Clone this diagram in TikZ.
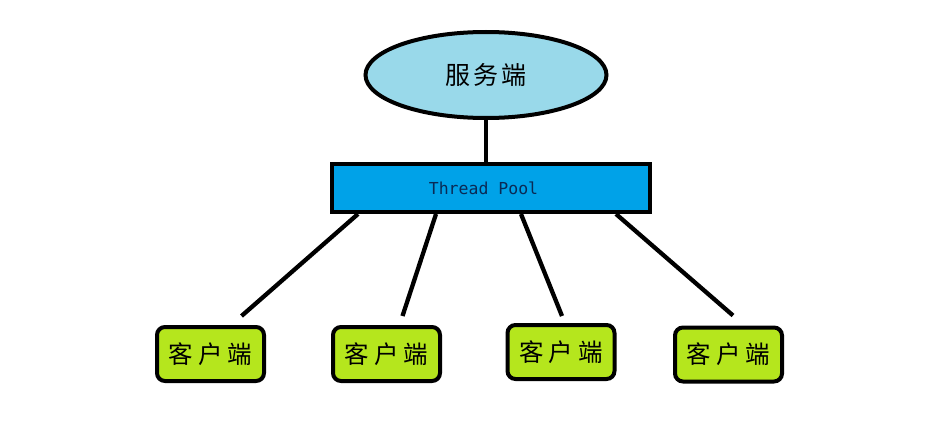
\documentclass[tikz,border=0pt]{standalone}
\usepackage{fontspec}
\newfontfamily\cjk{Noto Sans CJK SC}
\newfontfamily\monof{DejaVu Sans Mono}
\usetikzlibrary{shapes.geometric,calc}
\definecolor{srvblue}{HTML}{99D9EA}
\definecolor{poolblue}{HTML}{00A2E8}
\definecolor{cligreen}{HTML}{B5E61D}
\definecolor{pooltext}{HTML}{0A2A55}
\tikzset{
  server/.style={ellipse, draw=black, line width=4pt, fill=srvblue, inner sep=0pt,
    minimum width=241pt, minimum height=86pt, font=\cjk\fontsize{25}{25}\selectfont},
  pool/.style={rectangle, draw=black, line width=4pt, fill=poolblue, inner sep=0pt,
    minimum width=318pt, minimum height=48pt, text=pooltext, font=\monof\fontsize{16.5}{16.5}\selectfont},
  client/.style={rectangle, rounded corners=8pt, draw=black, line width=4pt, fill=cligreen,
    inner sep=0pt, minimum width=107pt, minimum height=54pt, font=\cjk\fontsize{24.5}{24.5}\selectfont},
  link/.style={draw=black, line width=4.3pt}
}
\newcommand{\cli}{客\hspace{5pt}户\hspace{5pt}端}
\begin{document}
\begin{tikzpicture}[x=1pt,y=-1pt]
\useasboundingbox (0,0) rectangle (939,436);
\node[server] (srv) at (486,75) {服\hspace{3pt}务\hspace{3pt}端};
\node[pool] (tp) at (491,188) {Thread Pool\rule{15pt}{0pt}};
\node[client] (c1) at (210.5,354) {\cli};
\node[client] (c2) at (386.5,354) {\cli};
\node[client] (c3) at (561,352) {\cli};
\node[client] (c4) at (728.5,354.5) {\cli};
\coordinate (t1) at ($(tp.south west)+(28,0)$);
\coordinate (t2) at ($(tp.south west)+(106,0)$);
\coordinate (t3) at ($(tp.south west)+(191,0)$);
\coordinate (t4) at ($(tp.south west)+(286,0)$);
\coordinate (b1) at ($(c1.north)+(31,-9)$);
\coordinate (b2) at ($(c2.north)+(16,-9)$);
\coordinate (b3) at ($(c3.north)+(1,-7)$);
\coordinate (b4) at ($(c4.north)+(4.5,-10)$);
\draw[link] (srv.south) -- (srv.south |- tp.north);
\draw[link] (t1) -- (b1);
\draw[link] (t2) -- (b2);
\draw[link] (t3) -- (b3);
\draw[link] (t4) -- (b4);
\end{tikzpicture}
\end{document}
